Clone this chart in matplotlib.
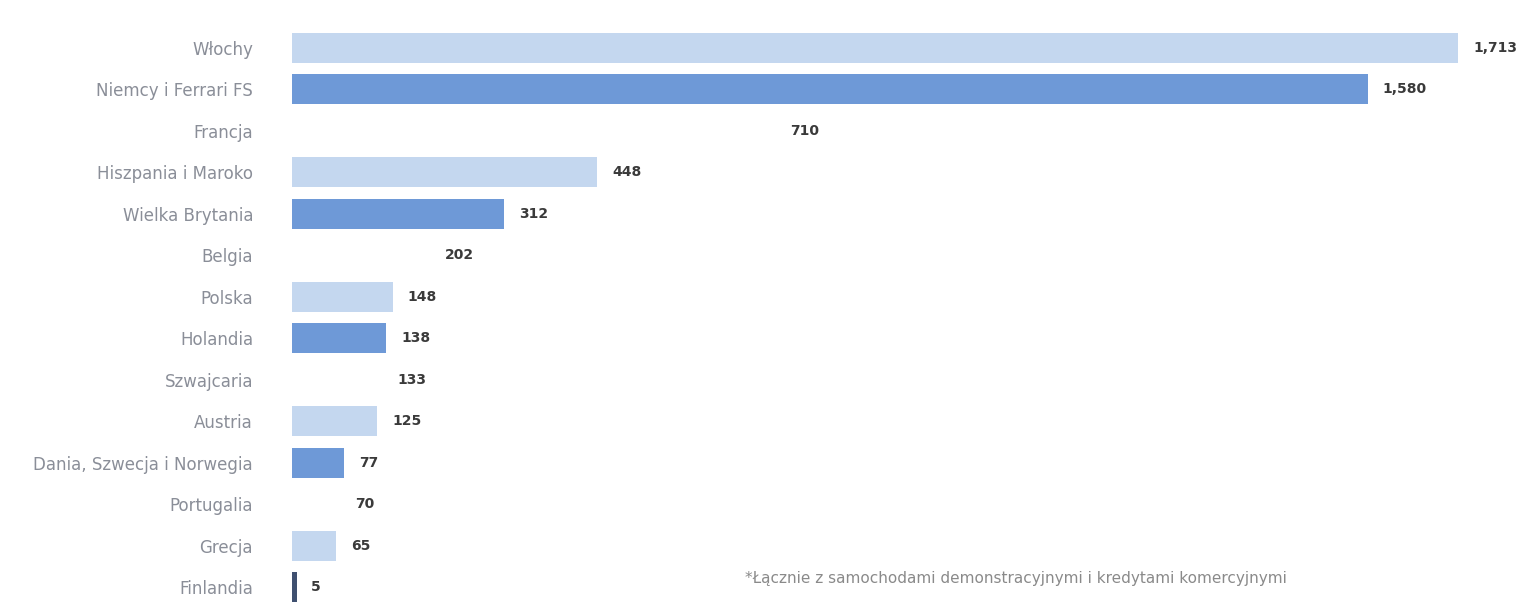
import matplotlib.pyplot as plt

# dane z wykresu
kraje = ['Włochy', 'Niemcy i Ferrari FS', 'Francja', 'Hiszpania i Maroko',
         'Wielka Brytania', 'Belgia', 'Polska', 'Holandia', 'Szwajcaria',
         'Austria', 'Dania, Szwecja i Norwegia', 'Portugalia', 'Grecja', 'Finlandia']
wartosci = [1713, 1580, 710, 448, 312, 202, 148, 138, 133, 125, 77, 70, 65, 5]
kolory = ['#c4d7ef', '#6e99d7', '#ffffff']
przypis = '*Łącznie z samochodami demonstracyjnymi i kredytami komercyjnymi'

fig = plt.figure(figsize=(15.24, 6.1), dpi=100)
ax = fig.add_axes([292/1524, 0.003, 1208/1524, 0.953])

y = range(len(kraje))
cols = [kolory[i % 3] for i in y]
ax.barh(y, wartosci, height=0.72, color=cols, edgecolor='none')
# Finlandia - cienka ciemna kreska
ax.barh(13, wartosci[13] + 2, height=0.72, color='#3f5070')

for i, v in enumerate(wartosci):
    ax.text(v + 22, i, f'{v:,}', va='center', ha='left', fontsize=10,
            fontweight='bold', color='#3a3a3a')

ax.set_xlim(0, 1774)
ax.set_ylim(13.5, -0.5)
ax.set_yticks(list(y))
ax.set_yticklabels(kraje, fontsize=12, color='#8a8e98')
ax.tick_params(axis='y', length=0, pad=28)
ax.set_xticks([])
for s in ax.spines.values():
    s.set_visible(False)

fig.text(745/1524, 1 - 578/610, przypis, fontsize=11, color='#8a8a8a',
         va='center', ha='left')

fig.savefig('out.png', dpi=100)
